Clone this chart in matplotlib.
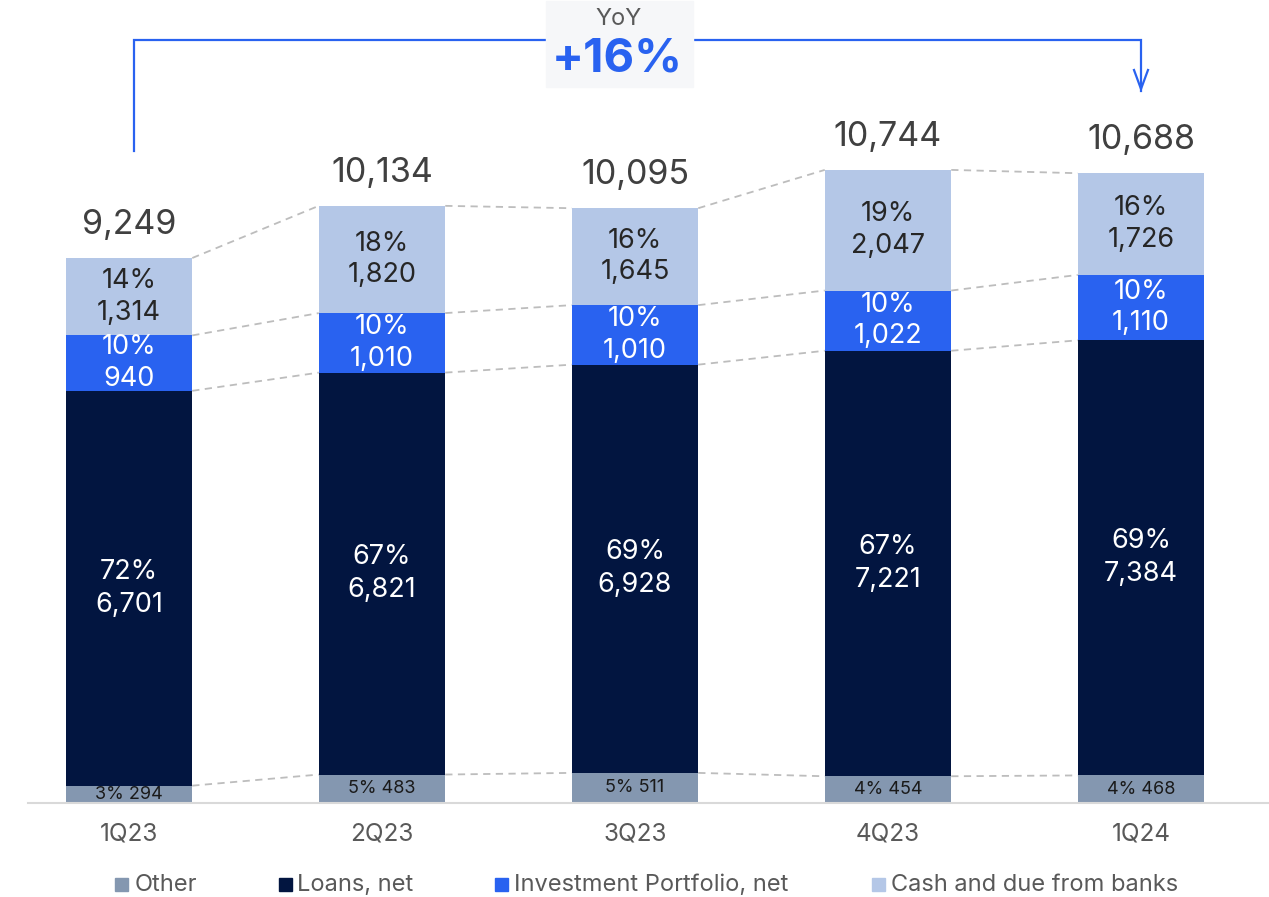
import matplotlib
matplotlib.use("Agg")
import matplotlib.pyplot as plt
from matplotlib.patches import Rectangle

plt.rcParams['font.family'] = ['Inter', 'DejaVu Sans']

quarters = ["1Q23", "2Q23", "3Q23", "4Q23", "1Q24"]
other = [294, 483, 511, 454, 468]
loans = [6701, 6821, 6928, 7221, 7384]
invest = [940, 1010, 1010, 1022, 1110]
cash = [1314, 1820, 1645, 2047, 1726]
other_pct = ["3%", "5%", "5%", "4%", "4%"]
loans_pct = ["72%", "67%", "69%", "67%", "69%"]
invest_pct = ["10%", "10%", "10%", "10%", "10%"]
cash_pct = ["14%", "18%", "16%", "19%", "16%"]
total_labels = ["9,249", "10,134", "10,095", "10,744", "10,688"]
series_names = ["Other", "Loans, net", "Investment Portfolio, net", "Cash and due from banks"]
yoy_label = "+16%"

c_other = "#8497B0"
c_loans = "#021540"
c_inv = "#2962F0"
c_cash = "#B4C7E7"
colors = [c_other, c_loans, c_inv, c_cash]

W, H = 1269, 897
fig = plt.figure(figsize=(W / 100, H / 100), dpi=100)
ax = fig.add_axes([0, 0, 1, 1])
u = 9249 / 545.0  # data units per pixel
ax.set_xlim(-129 / 253, (W - 129) / 253)
ax.set_ylim(-(H - 803) * u, 803 * u)
ax.axis("off")

x = list(range(len(quarters)))
bw = 0.5
series = [other, loans, invest, cash]
bottoms = [0] * len(x)
levels = []
for vals, col in zip(series, colors):
    ax.bar(x, vals, bw, bottom=bottoms, color=col, edgecolor="none", zorder=2)
    bottoms = [b + v for b, v in zip(bottoms, vals)]
    levels.append(list(bottoms))

# dashed connectors
for lev in levels:
    for i in range(len(x) - 1):
        ax.plot([x[i] + bw / 2, x[i + 1] - bw / 2], [lev[i], lev[i + 1]],
                color="#BDBDBD", lw=1.3, ls=(0, (4, 3)), zorder=1)

# baseline
ax.plot([-0.4, 4.5], [0, 0], color="#D9D9D9", lw=1.5, zorder=3)

# segment labels
for i in x:
    ax.text(i, other[i] / 2, f"{other_pct[i]} {other[i]:,}", ha="center", va="center",
            fontsize=13, color="#1A1A1A", zorder=4)
    b0 = other[i]
    ax.text(i, b0 + loans[i] / 2, f"{loans_pct[i]}\n{loans[i]:,}", ha="center", va="center",
            fontsize=19.5, color="white", linespacing=1.36, zorder=4)
    b0 += loans[i]
    ax.text(i, b0 + invest[i] / 2, f"{invest_pct[i]}\n{invest[i]:,}", ha="center", va="center",
            fontsize=19.5, color="white", linespacing=1.28, zorder=4)
    b0 += invest[i]
    ax.text(i, b0 + cash[i] / 2, f"{cash_pct[i]}\n{cash[i]:,}", ha="center", va="center",
            fontsize=19.5, color="#262626", linespacing=1.28, zorder=4)
    b0 += cash[i]
    ax.text(i, b0 + 33 * u, total_labels[i], ha="center", va="center",
            fontsize=24.5, color="#404040", zorder=4)
    ax.text(i, -31 * u, quarters[i], ha="center", va="center", fontsize=17.5, color="#595959")

# legend (manual)
def fx(px):
    return px / W
def fy(py):
    return 1 - py / H

leg_sq = [121, 285, 501, 878]
leg_tx = [135, 297, 514, 891]
for name, col, sx, tx in zip(series_names, colors, leg_sq, leg_tx):
    fig.patches.append(Rectangle((fx(sx - 6.5), fy(884 + 6.5)), 13 / W, 13 / H,
                                 transform=fig.transFigure, color=col, figure=fig))
    fig.text(fx(tx), fy(885), name, ha="left", va="center", fontsize=17, color="#595959")

# YoY bracket
blue = "#2962F0"
ytop = 763 * u
ax.plot([0.02, 0.02, 4.0, 4.0], [(803 - 151) * u, ytop, ytop, (803 - 91) * u],
        color=blue, lw=1.6, zorder=5, solid_joinstyle="miter")
ax.plot([4.0 - 7 / 253, 4.0, 4.0 + 7 / 253], [(803 - 70) * u, (803 - 89) * u, (803 - 70) * u],
        color=blue, lw=1.6, zorder=5)
fig.patches.append(Rectangle((fx(546), fy(87)), (693 - 546) / W, 86 / H,
                             transform=fig.transFigure, color="#F6F7F9", zorder=6, figure=fig))
fig.text(fx(619), fy(19), "YoY", ha="center", va="center", fontsize=17, color="#595959", zorder=7)
fig.text(fx(617), fy(60), yoy_label, ha="center", va="center", fontsize=34, fontweight="bold",
         color=blue, zorder=7)

fig.savefig("out.png", dpi=100)
